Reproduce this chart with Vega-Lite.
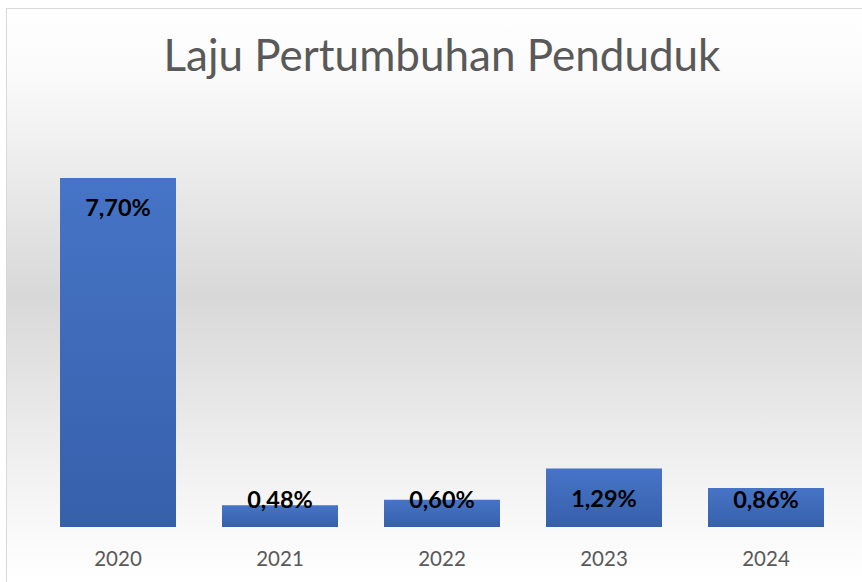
{
  "$schema": "https://vega.github.io/schema/vega-lite/v6.json",
  "width": 856,
  "height": 574,
  "autosize": {"type": "none"},
  "padding": {"left": 6, "top": 8, "right": 0, "bottom": 0},
  "background": "#ffffff",
  "title": {
    "text": "Laju Pertumbuhan Penduduk",
    "font": "Lato",
    "fontSize": 44,
    "fontWeight": "normal",
    "color": "#595959",
    "anchor": "middle",
    "baseline": "alphabetic",
    "offset": -107,
    "dx": 8
  },
  "data": {
    "values": [
      {"tahun": "2020", "laju": 7.70, "label": "7,70%"},
      {"tahun": "2021", "laju": 0.48, "label": "0,48%"},
      {"tahun": "2022", "laju": 0.60, "label": "0,60%"},
      {"tahun": "2023", "laju": 1.29, "label": "1,29%"},
      {"tahun": "2024", "laju": 0.86, "label": "0,86%"}
    ]
  },
  "encoding": {
    "x": {
      "field": "tahun",
      "type": "ordinal",
      "scale": {"paddingInner": 0.284, "paddingOuter": 0.284, "align": 0.587},
      "axis": {
        "title": null,
        "domain": false,
        "ticks": false,
        "grid": false,
        "labelAngle": 0,
        "labelFont": "Lato",
        "labelFontSize": 20.5,
        "labelColor": "#595959",
        "labelBaseline": "alphabetic",
        "labelPadding": 38,
        "offset": -55
      }
    }
  },
  "layer": [
    {
      "mark": {
        "type": "bar",
        "color": {
          "gradient": "linear",
          "x1": 0, "y1": 0, "x2": 0, "y2": 1,
          "stops": [
            {"offset": 0, "color": "#4674c6"},
            {"offset": 1, "color": "#3760ab"}
          ]
        }
      },
      "encoding": {
        "y": {
          "field": "laju",
          "type": "quantitative",
          "scale": {"domain": [-1.214, 11.452], "nice": false, "zero": false},
          "axis": null
        },
        "y2": {"datum": 0}
      }
    },
    {
      "transform": [{"filter": "datum.laju >= 1"}],
      "mark": {
        "type": "text",
        "baseline": "alphabetic",
        "dy": 38,
        "font": "Lato",
        "fontSize": 23.5,
        "fontWeight": "bold",
        "color": "#000000"
      },
      "encoding": {
        "y": {"field": "laju", "type": "quantitative"},
        "text": {"field": "label"}
      }
    },
    {
      "transform": [{"filter": "datum.laju < 1"}],
      "mark": {
        "type": "text",
        "baseline": "alphabetic",
        "dy": -19,
        "font": "Lato",
        "fontSize": 23.5,
        "fontWeight": "bold",
        "color": "#000000"
      },
      "encoding": {
        "y": {"datum": 0, "type": "quantitative"},
        "text": {"field": "label"}
      }
    }
  ],
  "config": {
    "view": {
      "stroke": "#d9d9d9",
      "fill": {
        "gradient": "linear",
        "x1": 0, "y1": 0, "x2": 0, "y2": 1,
        "stops": [
          {"offset": 0, "color": "#ffffff"},
          {"offset": 0.12, "color": "#fafafa"},
          {"offset": 0.5, "color": "#d8d8d8"},
          {"offset": 0.88, "color": "#f7f7f7"},
          {"offset": 1, "color": "#ffffff"}
        ]
      }
    }
  }
}
